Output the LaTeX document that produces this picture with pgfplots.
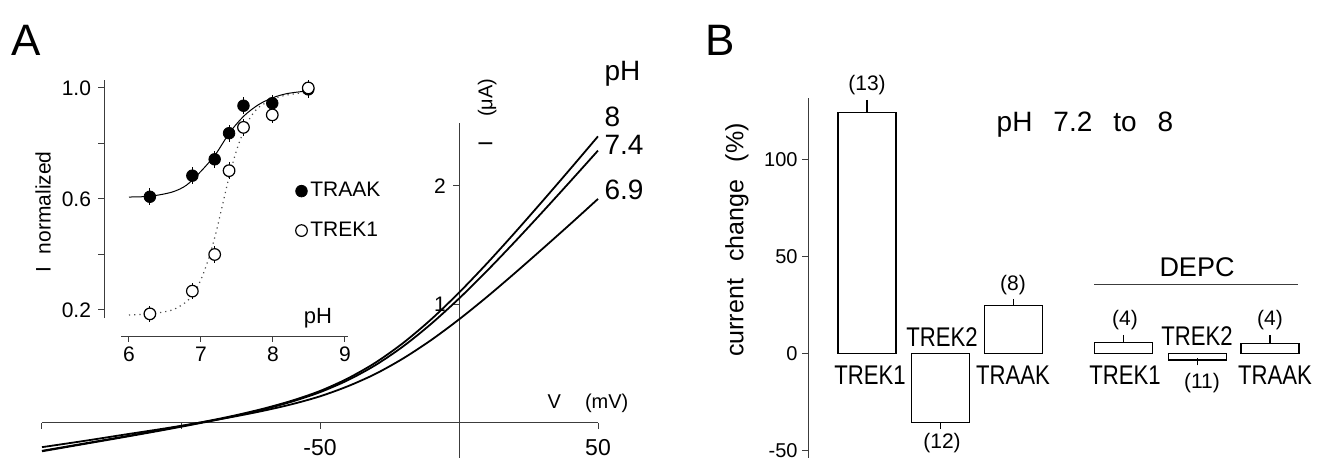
\documentclass[border=0pt]{standalone}
\usepackage{fontspec}
\setmainfont{Liberation Sans}
\newfontfamily\narrowsans[FakeStretch=0.82]{Liberation Sans}
\usepackage{pgfplots}
\pgfplotsset{compat=1.18}
\newcommand\fs[1]{\fontsize{#1}{#1}\selectfont}
\definecolor{axgray}{RGB}{60,60,60}

\begin{document}
\begin{tikzpicture}
\useasboundingbox (0,0) rectangle (659pt,229pt);
\node[font=\fs{22}] at (13pt,209pt) {A};
\node[font=\fs{22}] at (360pt,209pt) {B};

% ---------- A: I-V traces
\begin{axis}[at={(21pt,0pt)}, anchor=south west, scale only axis,
  width=278pt, height=195.25pt,
  xmin=-150, xmax=50, ymin=-0.2954, ymax=3.0,
  axis lines=none, clip=false]
\draw[axgray, line width=0.5pt] (axis cs:-150,0) -- (axis cs:50,0);
\draw[axgray, line width=0.5pt] (axis cs:0,-0.2954) -- (axis cs:0,2.53);
\pgfplotsinvokeforeach{-150,-100,-50,50}{\draw[axgray, line width=0.5pt] (axis cs:#1,0) -- ++(0pt,-3pt);}
\pgfplotsinvokeforeach{1,2}{\draw[axgray, line width=0.5pt] (axis cs:0,#1) -- ++(-3pt,0pt);}
\node[font=\fs{11.5}] at (axis cs:-50,0) [yshift=-12.5pt] {-50};
\node[font=\fs{11.5}] at (axis cs:50,0) [yshift=-12.5pt] {50};
\node[font=\fs{10.5}] at (axis cs:0,2) [xshift=-9.5pt] {2};
\node[font=\fs{10.5}] at (axis cs:0,1) [xshift=-9.5pt] {1};
\node[font=\fs{10}] at (axis cs:46.4,0.169) {V\hspace{1.2em}(mV)};
\node[font=\fs{10}, rotate=90] at (axis cs:10.1,2.62) {I\hspace{1.2em}(μA)};
\node[font=\fs{14}, anchor=west, inner sep=0pt] at (axis cs:52.2,2.95) {pH};
\node[font=\fs{14}, anchor=west, inner sep=0pt] at (axis cs:52.2,2.58) {8};
\node[font=\fs{14}, anchor=west, inner sep=0pt] at (axis cs:52.2,2.35) {7.4};
\node[font=\fs{14}, anchor=west, inner sep=0pt] at (axis cs:52.2,1.97) {6.9};

% pH 8
\addplot[black, line width=0.9pt, smooth] coordinates {
(-150,-0.235) (-135,-0.174) (-120,-0.113) (-105,-0.049) (-90,0.018) (-80,0.067)
(-70,0.123) (-60,0.189) (-50,0.270) (-40,0.376) (-30,0.510) (-20,0.677) (-10,0.875)
(0,1.100) (10,1.345) (20,1.604) (30,1.871) (40,2.143) (50,2.419)};
% pH 7.4
\addplot[black, line width=0.9pt, smooth] coordinates {
(-150,-0.239) (-135,-0.178) (-120,-0.117) (-105,-0.054) (-90,0.013) (-80,0.062)
(-70,0.117) (-60,0.181) (-50,0.260) (-40,0.361) (-30,0.489) (-20,0.648) (-10,0.837)
(0,1.050) (10,1.282) (20,1.527) (30,1.780) (40,2.038) (50,2.299)};
% pH 6.9
\addplot[black, line width=0.9pt, smooth] coordinates {
(-150,-0.204) (-135,-0.152) (-120,-0.097) (-105,-0.043) (-90,0.016) (-80,0.058)
(-70,0.105) (-60,0.159) (-50,0.225) (-40,0.310) (-30,0.415) (-20,0.546) (-10,0.700)
(0,0.874) (10,1.063) (20,1.263) (30,1.469) (40,1.678) (50,1.891)};
\end{axis}

% ---------- A inset: normalized current vs pH
\begin{axis}[at={(50.1pt,57.35pt)}, anchor=south west, scale only axis,
  width=126pt, height=136pt,
  xmin=5.6, xmax=9.1, ymin=0.08, ymax=1.06,
  axis lines=none, clip=false,
  legend style={at={(axis cs:8.31,0.672)}, anchor=north west, draw=none, fill=none,
    inner sep=0pt, row sep=8pt, font=\fs{10.5}, nodes={inner sep=1.5pt}},
  legend cell align=left,
  legend image code/.code={\draw[#1] plot coordinates {(0pt,0pt)};}]
\draw[axgray, line width=0.5pt] (axis cs:5.653,0.171) -- (axis cs:5.653,1.029);
\draw[axgray, line width=0.5pt] (axis cs:5.89,0.106) -- (axis cs:9.04,0.106);
\pgfplotsinvokeforeach{0.2,0.4,0.6,0.8,1.0}{\draw[axgray, line width=0.5pt] (axis cs:5.653,#1) -- ++(-3pt,0pt);}
\pgfplotsinvokeforeach{6,7,8,9}{\draw[axgray, line width=0.5pt] (axis cs:#1,0.106) -- ++(0pt,-3pt);
  \node[font=\fs{10.5}] at (axis cs:#1,0.106) [yshift=-9.3pt] {#1};}
\node[font=\fs{10.5}, anchor=east] at (axis cs:5.653,1.0) [xshift=-3pt] {1.0};
\node[font=\fs{10.5}, anchor=east] at (axis cs:5.653,0.6) [xshift=-3pt] {0.6};
\node[font=\fs{10.5}, anchor=east] at (axis cs:5.653,0.2) [xshift=-3pt] {0.2};
\node[font=\fs{10.5}, rotate=90] at (axis cs:4.806,0.553) {I\hspace{0.6em}normalized};
\node[font=\fs{11}] at (axis cs:8.625,0.171) {pH};

% fits
\addplot[black, line width=0.5pt, smooth, forget plot] coordinates {
(6.0,0.607) (6.3,0.61) (6.6,0.625) (6.8,0.65) (7.0,0.70) (7.2,0.76) (7.4,0.84)
(7.6,0.90) (7.8,0.94) (8.0,0.965) (8.2,0.98) (8.5,0.99)};
\addplot[black!70, line width=0.6pt, dotted, smooth, forget plot] coordinates {
(6.0,0.182) (6.3,0.186) (6.6,0.20) (6.8,0.23) (6.9,0.26) (7.0,0.31) (7.1,0.38)
(7.2,0.47) (7.3,0.58) (7.4,0.69) (7.5,0.78) (7.6,0.85) (7.7,0.90) (7.8,0.93)
(8.0,0.96) (8.2,0.975) (8.5,0.985)};
% data
\addplot[only marks, mark=*, mark size=2.9pt, mark options={fill=black, draw=black},
  error bars/.cd, y dir=both, y fixed=0.03, error mark=none,
  error bar style={black, line width=0.5pt}] coordinates {
(6.29,0.608) (6.88,0.684) (7.19,0.743) (7.39,0.837) (7.59,0.936) (7.99,0.945) (8.49,0.995)};
\addlegendentry{TRAAK}
\addplot[only marks, mark=*, mark size=2.9pt, mark options={fill=white, draw=black, line width=0.6pt},
  error bars/.cd, y dir=both, y fixed=0.03, error mark=none,
  error bar style={black, line width=0.5pt}] coordinates {
(6.29,0.186) (6.88,0.268) (7.19,0.40) (7.39,0.702) (7.59,0.858) (7.99,0.903) (8.49,1.0)};
\addlegendentry{TREK1}
\end{axis}

% ---------- B: bar chart
\begin{axis}[at={(404pt,0pt)}, anchor=south west, scale only axis,
  width=250pt, height=179.75pt,
  xmin=0, xmax=500, ymin=-53.9, ymax=131.4,
  axis x line=none, axis y line=left,
  axis line style={-, axgray, line width=0.5pt},
  ytick={-50,0,50,100}, yticklabels={-50,0,50,100},
  tick align=outside, major tick length=3pt, tick style={axgray, line width=0.5pt},
  yticklabel style={font=\fs{10}, inner sep=1pt, xshift=-1pt},
  ybar, bar width=58, bar shift=0pt, clip=false]
\addplot[fill=white, draw=black, line width=0.8pt,
  error bars/.cd, y dir=plus, y explicit, error mark=-,
  error bar style={black, line width=0.6pt},
  error mark options={black, mark size=1.75pt, line width=0.6pt}] coordinates {
(59,124.2) += (0,4.7)
(205.5,24.7) += (0,1.6)
(315.5,5.7) += (0,2.0)
(462,5.2) += (0,2.3)};
\addplot[fill=white, draw=black, line width=0.8pt,
  error bars/.cd, y dir=minus, y explicit, error mark=-,
  error bar style={black, line width=0.6pt},
  error mark options={black, mark size=1.75pt, line width=0.6pt}] coordinates {
(132.5,-35.6) -= (0,1.5)
(389.5,-3.5) -= (0,0.9)};

\node[font=\fs{12.5}, rotate=90] at (axis cs:-71,58.5) {current\hspace{0.7em}change\hspace{0.7em}(\%)};
\node[font=\fs{14}] at (axis cs:277,117.8) {pH\hspace{0.75em}7.2\hspace{0.75em}to\hspace{0.75em}8};
\node[font=\fs{10.5}] at (axis cs:59,138.4) {(13)};
\node[font=\fs{10.5}] at (axis cs:134,-46.1) {(12)};
\node[font=\fs{10.5}] at (axis cs:205,35.3) {(8)};
\node[font=\fs{10.5}] at (axis cs:317,17.3) {(4)};
\node[font=\fs{10.5}] at (axis cs:462,17.3) {(4)};
\node[font=\fs{10.5}] at (axis cs:394,-15.2) {(11)};
\node[font=\narrowsans\fs{13.5}] at (axis cs:62,-11.1) {TREK1};
\node[font=\narrowsans\fs{13.5}] at (axis cs:134,8.5) {TREK2};
\node[font=\narrowsans\fs{13.5}] at (axis cs:205,-11.1) {TRAAK};
\node[font=\narrowsans\fs{13.5}] at (axis cs:317,-11.1) {TREK1};
\node[font=\narrowsans\fs{13.5}] at (axis cs:389,9.0) {TREK2};
\node[font=\narrowsans\fs{13.5}] at (axis cs:467,-11.1) {TRAAK};
\node[font=\fs{13.5}] at (axis cs:389,44.6) {DEPC};
\draw[axgray, line width=0.5pt] (axis cs:286,35.3) -- (axis cs:490,35.3);
\end{axis}
\end{tikzpicture}
\end{document}
